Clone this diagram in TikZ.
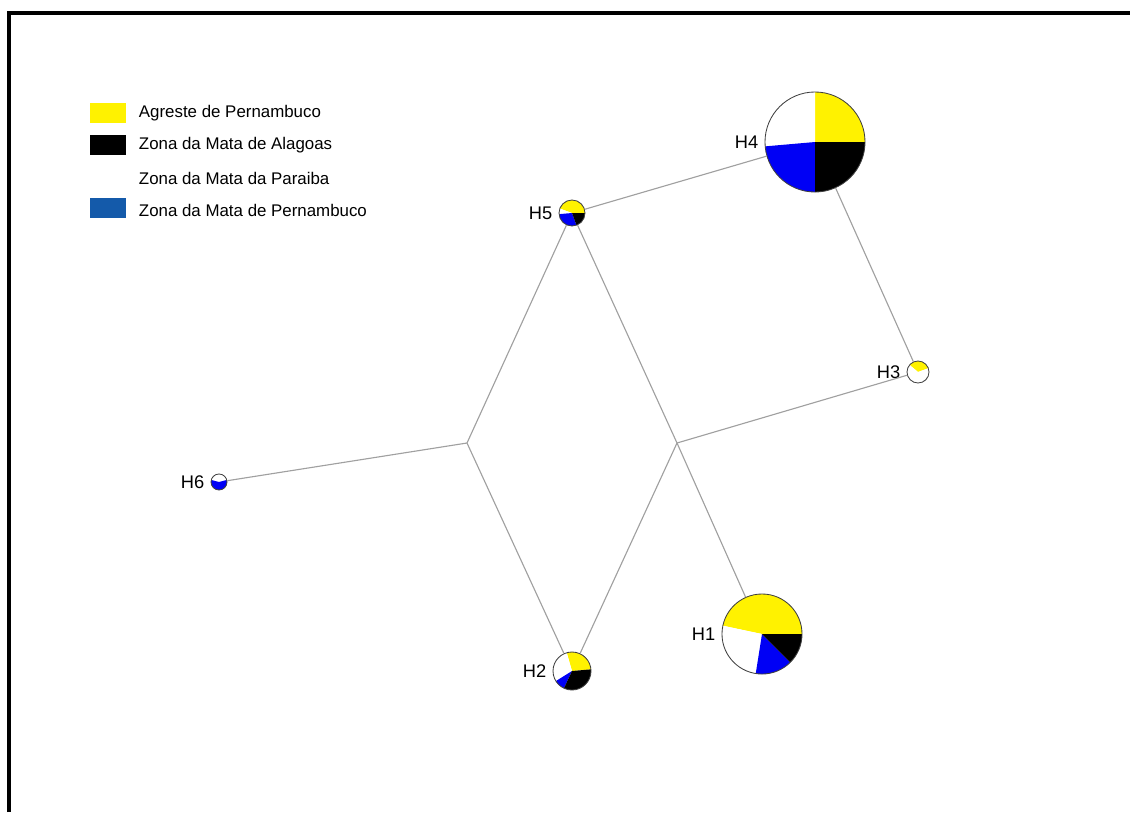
\documentclass[tikz,border=0pt]{standalone}
\usepackage{fontspec}
\setmainfont{Liberation Sans}
\usetikzlibrary{
  positioning,
}
\definecolor{pieyellow}{RGB}{255,242,0}
\definecolor{pieblue}{RGB}{0,0,245}
\definecolor{keyblue}{RGB}{20,90,170}
\definecolor{edgegrey}{RGB}{160,160,160}

\begin{document}
\begin{tikzpicture}[
  x=0.025cm, y=-0.025cm,
  every node/.style={font=\fontsize{12}{14}\selectfont},
  hap/.style={circle, draw=black!75, line width=0.6pt, inner sep=0pt, minimum size=#1*0.05cm},
  slices/.style={path picture={
    \foreach \a/\b/\c in {#1}
      \fill[\c] (path picture bounding box.center) -- ++(\a:3cm)
        arc[start angle=\a, end angle=\b, radius=3cm] -- cycle;}},
  hlabel/.style={label={[label distance=1pt, font=\fontsize{13}{15}\selectfont]left:#1}},
  link/.style={draw=edgegrey, line width=0.8pt},
  keybox/.style={minimum width=0.875cm, minimum height=0.5cm, inner sep=0pt},
]
\useasboundingbox (0,0) rectangle (1130,812);
\draw[line width=2.2pt] (9,812) -- (9,13) -- (1130,13);

% legend
\node[keybox, fill=pieyellow] (kagr) at (108,113) {};
\node[keybox, fill=black] (kala) at (108,145) {};
\node[keybox, fill=white] (kpar) at (108,178) {};
\node[keybox, fill=keyblue] (kper) at (108,208) {};
\node[anchor=west] (tagr) at (134,113) {Agreste de Pernambuco};
\node[anchor=west] (tala) at (134,145) {Zona da Mata de Alagoas};
\node[anchor=west] (tpar) at (134,178) {Zona da Mata da Paraiba};
\node[anchor=west] (tper) at (134,210) {Zona da Mata de Pernambuco};

% median vectors
\coordinate (mv1) at (467,443);
\coordinate (mv2) at (677,443);

% haplotypes
\node[hap=50, hlabel=H4, slices={0/90/pieyellow, 90/185/white, 185/270/pieblue, 270/360/black}] (h4) at (815,142) {};
\node[hap=13, hlabel=H5, slices={0/160/pieyellow, 160/185/white, 185/290/pieblue, 290/360/black}] (h5) at (572,213) {};
\node[hap=11, hlabel=H3, slices={20/140/pieyellow, 140/380/white}] (h3) at (918,372) {};
\node[hap=40, hlabel=H1, slices={0/168/pieyellow, 168/261/white, 261/315/pieblue, 315/360/black}] (h1) at (762,634) {};
\node[hap=19, hlabel=H2, slices={5/106/pieyellow, 106/212/white, 212/245/pieblue, 245/365/black}] (h2) at (572,671) {};
\node[hap=8, hlabel=H6, slices={15/165/white, 165/375/pieblue}] (h6) at (219,482) {};

% network
\path[link] (h6) -- (mv1);
\path[link] (mv1) -- (h5);
\path[link] (mv1) -- (h2);
\path[link] (h5) -- (h4);
\path[link] (h4) -- (h3);
\path[link] (h5) -- (mv2);
\path[link] (mv2) -- (h1);
\path[link] (mv2) -- (h3);
\path[link] (mv2) -- (h2);
\end{tikzpicture}
\end{document}
